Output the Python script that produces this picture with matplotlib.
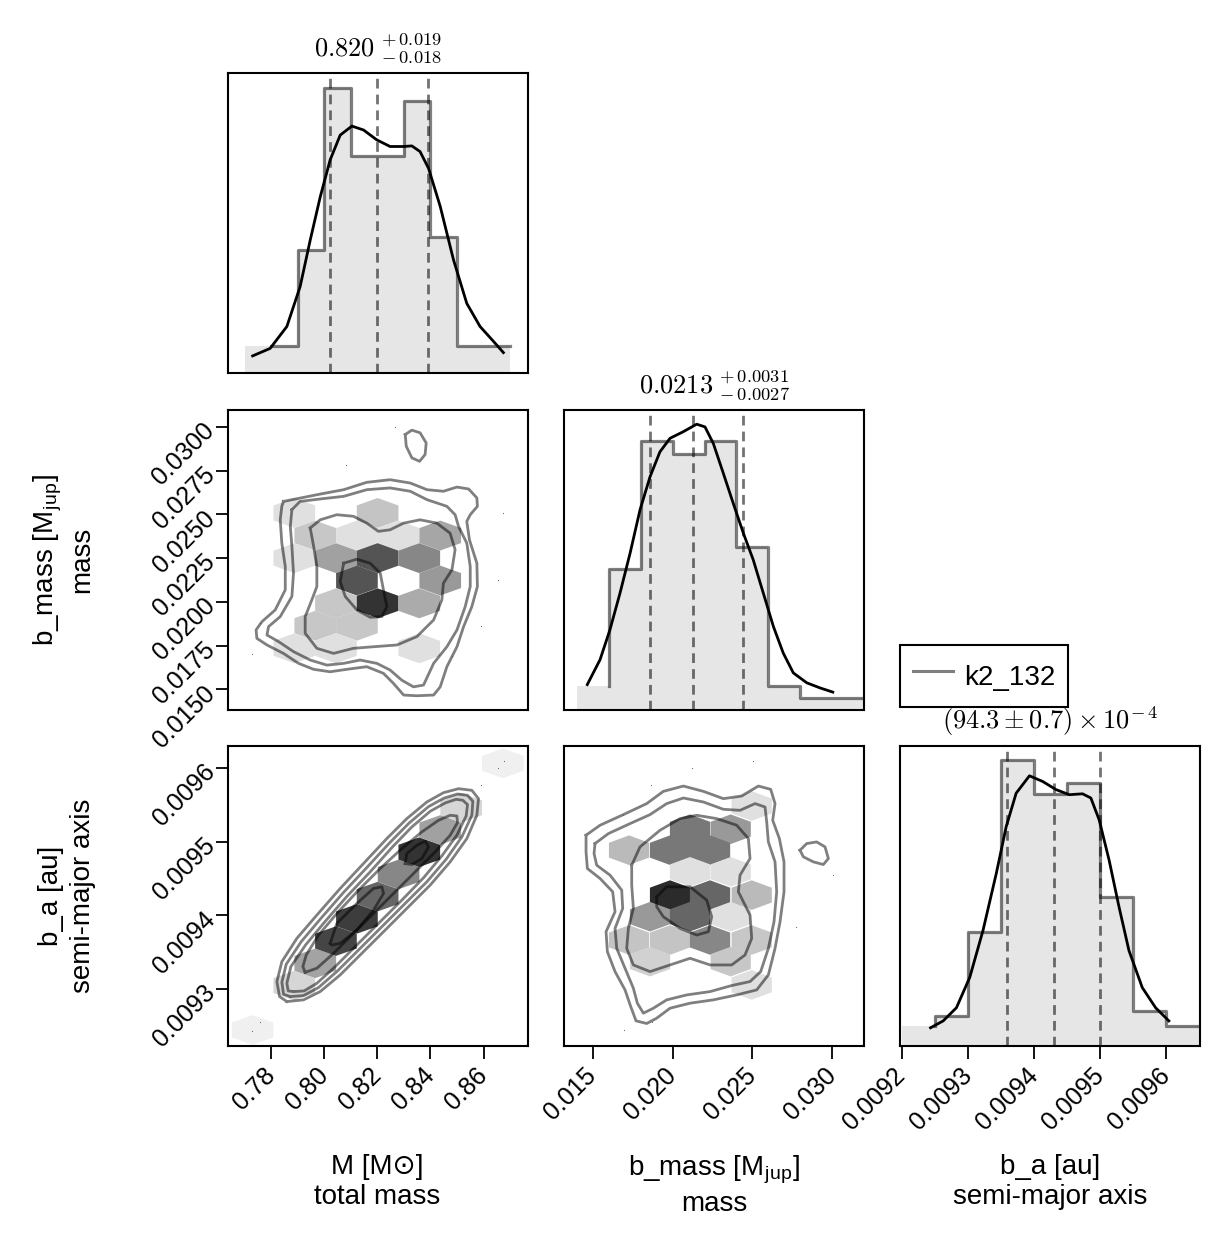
import numpy as np
import matplotlib
matplotlib.use("Agg")
import matplotlib.pyplot as plt
from matplotlib.collections import PolyCollection
from matplotlib.lines import Line2D

plt.rcParams['font.family'] = ['Liberation Sans', 'DejaVu Sans']
plt.rcParams['mathtext.fontset'] = 'cm'

# ---------------- 1D marginals (heights as fraction of panel height) ----------------
m_edges = [0.770, 0.780, 0.790, 0.800, 0.810, 0.820, 0.830, 0.840, 0.850, 0.860, 0.870]
m_heights = [0.091, 0.091, 0.411, 0.952, 0.724, 0.724, 0.908, 0.453, 0.091, 0.091]
m_kde_x = [0.7730, 0.7796, 0.7859, 0.7909, 0.7947, 0.7985, 0.8022, 0.8060, 0.8104, 0.8148, 0.8198,
           0.8248, 0.8299, 0.8330, 0.8361, 0.8393, 0.8437, 0.8487, 0.8537, 0.8587, 0.8638, 0.8675]
m_kde_y = [0.058, 0.083, 0.156, 0.289, 0.444, 0.589, 0.711, 0.794, 0.824, 0.811, 0.778,
           0.756, 0.756, 0.758, 0.739, 0.683, 0.556, 0.378, 0.233, 0.156, 0.106, 0.069]
m_quant = [0.802, 0.820, 0.839]

bm_edges = [0.014, 0.016, 0.018, 0.020, 0.022, 0.024, 0.026, 0.028, 0.030, 0.032]
bm_heights = [0.078, 0.468, 0.895, 0.851, 0.895, 0.543, 0.078, 0.039, 0.039]
bm_kde_x = [0.01466, 0.01546, 0.01608, 0.01671, 0.01734, 0.01796, 0.01859, 0.01921, 0.01984, 0.02067,
            0.02151, 0.02203, 0.02255, 0.02318, 0.02380, 0.02443, 0.02505, 0.02568, 0.02631, 0.02693,
            0.02756, 0.02840, 0.02923, 0.03003]
bm_kde_y = [0.083, 0.166, 0.266, 0.388, 0.521, 0.665, 0.776, 0.859, 0.904, 0.926,
            0.951, 0.942, 0.887, 0.787, 0.687, 0.588, 0.499, 0.388, 0.277, 0.188,
            0.122, 0.089, 0.072, 0.058]
bm_quant = [0.0186, 0.0213, 0.0244]

a_edges = [0.00920, 0.00925, 0.00930, 0.00935, 0.00940, 0.00945, 0.00950, 0.00955, 0.00960, 0.00965]
a_heights = [0.065, 0.098, 0.378, 0.953, 0.839, 0.875, 0.495, 0.115, 0.065]
a_kde_x = [0.0092436, 0.0092627, 0.0092828, 0.0093029, 0.0093229, 0.0093430, 0.0093581, 0.0093731,
           0.0093932, 0.0094133, 0.0094334, 0.0094535, 0.0094735, 0.0094861, 0.0094987, 0.0095137,
           0.0095288, 0.0095438, 0.0095639, 0.0095840, 0.0096041]
a_kde_y = [0.059, 0.082, 0.126, 0.227, 0.383, 0.573, 0.730, 0.841, 0.899, 0.880, 0.853, 0.836,
           0.839, 0.825, 0.752, 0.618, 0.461, 0.316, 0.193, 0.126, 0.082]
a_quant = [0.00936, 0.00943, 0.00950]

titles = [r"$0.820\;^{+\,0.019}_{-\,0.018}$", r"$0.0213\;^{+\,0.0031}_{-\,0.0027}$",
          r"$(94.3 \pm 0.7) \times 10^{-\,4}$"]

# ---------------- hexbin cells (centre x, centre y, shade 0..8) ----------------
hex_bm_M_x = [0.7887, 0.8201, 0.7966, 0.8123, 0.8280, 0.8437, 0.7887, 0.8044, 0.8201, 0.8358,
              0.8123, 0.8437, 0.8044, 0.8201, 0.8358, 0.7966, 0.8123, 0.7887, 0.8044, 0.8358]
hex_bm_M_y = [0.02508, 0.02508, 0.02379, 0.02379, 0.02379, 0.02379, 0.02250, 0.02250, 0.02250, 0.02250,
              0.02122, 0.02122, 0.01992, 0.01992, 0.01992, 0.01864, 0.01864, 0.01735, 0.01735, 0.01735]
hex_bm_M_s = [1.2, 2.3, 2.2, 1.2, 1.2, 3.5, 1.2, 3.7, 6.7, 4.7,
              6.7, 4.0, 2.2, 8.0, 3.3, 2.2, 2.2, 1.2, 1.2, 1.2]

hex_a_M_x = [0.7730, 0.7887, 0.7966, 0.8044, 0.8123, 0.8201, 0.8280, 0.8358, 0.8437, 0.8516, 0.8673]
hex_a_M_y = [0.0092448, 0.0093050, 0.0093351, 0.0093652, 0.0093953, 0.0094254, 0.0094555,
             0.0094856, 0.0095157, 0.0095458, 0.0096060]
hex_a_M_s = [0.6, 1.6, 3.6, 7.3, 7.6, 6.0, 4.7, 8.0, 3.7, 1.6, 0.6]

hex_a_bm_x = [0.024954, 0.021094, 0.023640, 0.017275, 0.019842, 0.022346, 0.021094, 0.023640,
              0.019842, 0.022346, 0.024954, 0.018589, 0.021094, 0.023640,
              0.017275, 0.019842, 0.022346, 0.024954, 0.018589, 0.023640, 0.024954]
hex_a_bm_y = [0.0095482, 0.0095167, 0.0095167, 0.0094883, 0.0094883, 0.0094883, 0.0094590, 0.0094590,
              0.0094275, 0.0094275, 0.0094275, 0.0093982, 0.0093982, 0.0093982,
              0.0093667, 0.0093667, 0.0093667, 0.0093667, 0.0093374, 0.0093374, 0.0093059]
hex_a_bm_s = [1.2, 5.3, 4.0, 2.7, 5.3, 5.3, 1.2, 1.2,
              8.3, 6.0, 2.7, 4.0, 6.0, 1.2,
              2.3, 2.3, 4.7, 2.2, 1.8, 2.2, 1.2]

# ---------------- density contours (closed loops) ----------------
cont_bm_M = [
    [(0.7846, 0.02574), (0.7985, 0.02616), (0.8073, 0.02641), (0.8160, 0.02683), (0.8248, 0.02698),
     (0.8324, 0.02679), (0.8387, 0.02641), (0.8449, 0.02632), (0.8500, 0.02656), (0.8544, 0.02645),
     (0.8575, 0.02594), (0.8577, 0.02546), (0.8550, 0.02498), (0.8537, 0.02460), (0.8547, 0.02355),
     (0.8575, 0.02221), (0.8577, 0.02088), (0.8556, 0.01973), (0.8525, 0.01859), (0.8500, 0.01744),
     (0.8462, 0.01630), (0.8437, 0.01515), (0.8412, 0.01468), (0.8349, 0.01464), (0.8299, 0.01468),
     (0.8261, 0.01534), (0.8223, 0.01592), (0.8160, 0.01630), (0.8085, 0.01615), (0.8022, 0.01601),
     (0.7960, 0.01615), (0.7903, 0.01649), (0.7846, 0.01706), (0.7784, 0.01754), (0.7746, 0.01792),
     (0.7743, 0.01840), (0.7765, 0.01887), (0.7815, 0.01954), (0.7853, 0.02069), (0.7853, 0.02202),
     (0.7840, 0.02336), (0.7834, 0.02469), (0.7840, 0.02546)],
    [(0.7878, 0.02527), (0.7909, 0.02574), (0.7985, 0.02588), (0.8073, 0.02603), (0.8160, 0.02641),
     (0.8248, 0.02651), (0.8324, 0.02632), (0.8387, 0.02584), (0.8462, 0.02546), (0.8493, 0.02498),
     (0.8506, 0.02431), (0.8537, 0.02336), (0.8550, 0.02202), (0.8550, 0.02088), (0.8531, 0.01973),
     (0.8500, 0.01840), (0.8462, 0.01744), (0.8412, 0.01649), (0.8374, 0.01525), (0.8336, 0.01515),
     (0.8292, 0.01553), (0.8248, 0.01611), (0.8198, 0.01649), (0.8135, 0.01668), (0.8073, 0.01649),
     (0.8010, 0.01639), (0.7947, 0.01668), (0.7884, 0.01716), (0.7828, 0.01773), (0.7784, 0.01811),
     (0.7790, 0.01859), (0.7834, 0.01916), (0.7878, 0.02031), (0.7884, 0.02164), (0.7878, 0.02317),
     (0.7872, 0.02431)],
    [(0.7947, 0.02422), (0.7985, 0.02469), (0.8047, 0.02498), (0.8110, 0.02489), (0.8160, 0.02450),
     (0.8204, 0.02403), (0.8248, 0.02412), (0.8299, 0.02450), (0.8361, 0.02469), (0.8424, 0.02450),
     (0.8474, 0.02393), (0.8493, 0.02298), (0.8481, 0.02183), (0.8449, 0.02107), (0.8443, 0.02011),
     (0.8412, 0.01897), (0.8349, 0.01802), (0.8274, 0.01754), (0.8186, 0.01744), (0.8110, 0.01735),
     (0.8035, 0.01706), (0.7972, 0.01735), (0.7928, 0.01821), (0.7928, 0.01916), (0.7953, 0.02011),
     (0.7972, 0.02088), (0.7972, 0.02202), (0.7960, 0.02317)],
    [(0.8073, 0.02221), (0.8123, 0.02244), (0.8173, 0.02221), (0.8211, 0.02164), (0.8223, 0.02069),
     (0.8236, 0.01973), (0.8217, 0.01916), (0.8173, 0.01912), (0.8123, 0.01954), (0.8079, 0.02031),
     (0.8060, 0.02116)],
    [(0.8305, 0.02956), (0.8330, 0.02981), (0.8361, 0.02966), (0.8384, 0.02908), (0.8380, 0.02842),
     (0.8359, 0.02803), (0.8330, 0.02823), (0.8309, 0.02889)],
]

cont_a_M = [
    [(0.78590, 0.0092833), (0.79218, 0.0092856), (0.79846, 0.0092968), (0.80600, 0.0093194),
     (0.81353, 0.0093464), (0.82233, 0.0093779), (0.83112, 0.0094095), (0.83991, 0.0094410),
     (0.84745, 0.0094725), (0.85373, 0.0095041), (0.85749, 0.0095356), (0.85812, 0.0095581),
     (0.85561, 0.0095694), (0.85059, 0.0095716), (0.84493, 0.0095662), (0.83865, 0.0095536),
     (0.83112, 0.0095311), (0.82358, 0.0095041), (0.81479, 0.0094703), (0.80600, 0.0094365),
     (0.79721, 0.0094005), (0.78967, 0.0093689), (0.78402, 0.0093374), (0.78214, 0.0093104),
     (0.78314, 0.0092901)],
    [(0.78716, 0.0092901), (0.79218, 0.0092914), (0.79784, 0.0093023), (0.80499, 0.0093248),
     (0.81253, 0.0093518), (0.82132, 0.0093833), (0.83011, 0.0094149), (0.83865, 0.0094455),
     (0.84594, 0.0094761), (0.85184, 0.0095063), (0.85561, 0.0095356), (0.85599, 0.0095545),
     (0.85398, 0.0095626), (0.85021, 0.0095644), (0.84519, 0.0095590), (0.83928, 0.0095473),
     (0.83200, 0.0095252), (0.82459, 0.0094982), (0.81605, 0.0094649), (0.80725, 0.0094311),
     (0.79871, 0.0093959), (0.79130, 0.0093644), (0.78565, 0.0093338), (0.78402, 0.0093095),
     (0.78465, 0.0092932)],
    [(0.78842, 0.0092968), (0.79243, 0.0092977), (0.79721, 0.0093081), (0.80412, 0.0093306),
     (0.81165, 0.0093577), (0.82044, 0.0093892), (0.82923, 0.0094207), (0.83740, 0.0094509),
     (0.84431, 0.0094806), (0.84996, 0.0095086), (0.85347, 0.0095347), (0.85398, 0.0095500),
     (0.85222, 0.0095559), (0.84971, 0.0095572), (0.84556, 0.0095523), (0.83991, 0.0095410),
     (0.83288, 0.0095194), (0.82559, 0.0094923), (0.81730, 0.0094590), (0.80851, 0.0094257),
     (0.80022, 0.0093914), (0.79294, 0.0093599), (0.78741, 0.0093306), (0.78590, 0.0093081),
     (0.78641, 0.0092977)],
    [(0.79281, 0.0093230), (0.79721, 0.0093284), (0.80349, 0.0093486), (0.81102, 0.0093757),
     (0.81919, 0.0094050), (0.82735, 0.0094342), (0.83489, 0.0094613), (0.84179, 0.0094860),
     (0.84745, 0.0095086), (0.85021, 0.0095257), (0.84996, 0.0095347), (0.84745, 0.0095356),
     (0.84305, 0.0095288), (0.83677, 0.0095131), (0.82923, 0.0094905), (0.82107, 0.0094635),
     (0.81291, 0.0094342), (0.80474, 0.0094027), (0.79784, 0.0093734), (0.79319, 0.0093464),
     (0.79193, 0.0093306)],
    [(0.80223, 0.0093622), (0.80474, 0.0093892), (0.81228, 0.0094162), (0.81856, 0.0094365),
     (0.82170, 0.0094387), (0.82233, 0.0094297), (0.81856, 0.0094072), (0.81228, 0.0093802),
     (0.80600, 0.0093622), (0.80286, 0.0093599)],
    [(0.83049, 0.0094703), (0.83112, 0.0094838), (0.83489, 0.0094950), (0.83803, 0.0095005),
     (0.83928, 0.0094928), (0.83677, 0.0094770), (0.83300, 0.0094689)],
]

cont_a_bm = [
    [(0.014583, 0.0095086), (0.015459, 0.0095221), (0.016920, 0.0095365), (0.018381, 0.0095514),
     (0.019424, 0.0095680), (0.020676, 0.0095752), (0.021928, 0.0095680), (0.023180, 0.0095581),
     (0.024328, 0.0095617), (0.025372, 0.0095752), (0.026144, 0.0095707), (0.026415, 0.0095514),
     (0.026269, 0.0095288), (0.026686, 0.0095041), (0.026978, 0.0094725), (0.026978, 0.0094320),
     (0.026728, 0.0093914), (0.026415, 0.0093554), (0.025998, 0.0093194), (0.025267, 0.0092991),
     (0.024015, 0.0092923), (0.022554, 0.0092856), (0.021094, 0.0092811), (0.019842, 0.0092743),
     (0.019007, 0.0092608), (0.018381, 0.0092536), (0.017713, 0.0092572), (0.017379, 0.0092766),
     (0.017024, 0.0092991), (0.016398, 0.0093239), (0.015918, 0.0093509), (0.015835, 0.0093779),
     (0.016398, 0.0094050), (0.016252, 0.0094320), (0.015459, 0.0094500), (0.014666, 0.0094635),
     (0.014583, 0.0094860)],
    [(0.015146, 0.0094973), (0.015981, 0.0095108), (0.017337, 0.0095243), (0.018589, 0.0095365),
     (0.019633, 0.0095514), (0.020676, 0.0095590), (0.021928, 0.0095536), (0.023180, 0.0095437),
     (0.024224, 0.0095423), (0.025163, 0.0095514), (0.025789, 0.0095468), (0.025893, 0.0095266),
     (0.025998, 0.0094995), (0.026415, 0.0094725), (0.026519, 0.0094320), (0.026352, 0.0093914),
     (0.025998, 0.0093554), (0.025518, 0.0093239), (0.024850, 0.0093104), (0.023702, 0.0093050),
     (0.022346, 0.0092968), (0.020885, 0.0092923), (0.019633, 0.0092856), (0.018798, 0.0092743),
     (0.018172, 0.0092676), (0.017796, 0.0092811), (0.017546, 0.0093014), (0.017024, 0.0093284),
     (0.016503, 0.0093554), (0.016398, 0.0093824), (0.016878, 0.0094095), (0.016816, 0.0094342),
     (0.016085, 0.0094545), (0.015250, 0.0094680), (0.015083, 0.0094838)],
    [(0.017442, 0.0094680), (0.017963, 0.0094928), (0.019215, 0.0095153), (0.020467, 0.0095311),
     (0.021511, 0.0095356), (0.022763, 0.0095311), (0.024015, 0.0095221), (0.024746, 0.0095041),
     (0.024850, 0.0094770), (0.024224, 0.0094545), (0.024120, 0.0094320), (0.024850, 0.0094005),
     (0.024954, 0.0093689), (0.024537, 0.0093464), (0.023702, 0.0093329), (0.022346, 0.0093329),
     (0.021094, 0.0093419), (0.019842, 0.0093329), (0.018589, 0.0093239), (0.017546, 0.0093329),
     (0.017129, 0.0093554), (0.017233, 0.0093824), (0.017546, 0.0094095), (0.017442, 0.0094410)],
    [(0.019007, 0.0094252), (0.019633, 0.0094387), (0.021094, 0.0094387), (0.022137, 0.0094207),
     (0.022450, 0.0093982), (0.022241, 0.0093779), (0.021511, 0.0093734), (0.020467, 0.0093824),
     (0.019424, 0.0093982), (0.019007, 0.0094117)],
    [(0.027980, 0.0094883), (0.028398, 0.0094973), (0.029024, 0.0094995), (0.029545, 0.0094928),
     (0.029754, 0.0094770), (0.029441, 0.0094689), (0.028815, 0.0094725), (0.028189, 0.0094793)],
]

# stray samples outside the contours
dots_bm_M = [(0.8267, 0.03001), (0.8083, 0.02781), (0.8675, 0.02508), (0.8653, 0.02126),
             (0.8590, 0.01864), (0.8483, 0.01693), (0.7727, 0.01700), (0.7759, 0.01878)]
dots_a_M = [(0.86754, 0.0096090), (0.86528, 0.0096000), (0.85900, 0.0095770),
            (0.77560, 0.0092563), (0.77284, 0.0092441)]
dots_a_bm = [(0.025017, 0.0096090), (0.021198, 0.0096000), (0.018631, 0.0095770),
             (0.016920, 0.0095356), (0.030067, 0.0094545), (0.027730, 0.0093838),
             (0.018694, 0.0092563), (0.016962, 0.0092446)]

# ---------------- axes ranges / ticks ----------------
lim_M = (0.76353, 0.87658)
lim_bm_x = (0.013203, 0.031985)
lim_bm_y = (0.013855, 0.030990)
lim_a_x = (0.0091974, 0.0096512)
lim_a_y = (0.0092238, 0.0096301)

ticks_M = [0.78, 0.80, 0.82, 0.84, 0.86]
labels_M = ["0.78", "0.80", "0.82", "0.84", "0.86"]
ticks_bm_x = [0.015, 0.020, 0.025, 0.030]
labels_bm_x = ["0.015", "0.020", "0.025", "0.030"]
ticks_a_x = [0.0092, 0.0093, 0.0094, 0.0095, 0.0096]
labels_a_x = ["0.0092", "0.0093", "0.0094", "0.0095", "0.0096"]
ticks_bm_y = [0.0150, 0.0175, 0.0200, 0.0225, 0.0250, 0.0275, 0.0300]
labels_bm_y = ["0.0150", "0.0175", "0.0200", "0.0225", "0.0250", "0.0275", "0.0300"]
ticks_a_y = [0.0093, 0.0094, 0.0095, 0.0096]
labels_a_y = ["0.0093", "0.0094", "0.0095", "0.0096"]

label_M = "M [M\u2299]\ntotal mass"
label_bm = "b_mass [M$_\\mathregular{jup}$]\nmass"
label_a = "b_a [au]\nsemi-major axis"

FS = 20      # axis labels / legend
TIT = 19     # panel titles
TFS = 18     # tick labels
fill_col = '#e6e6e6'
line_col = (0, 0, 0, 0.5)

fig = plt.figure(figsize=(12.32, 12.46), dpi=100)
W, H = 1232.0, 1246.0
lefts = [227.5 / W, 564 / W, 900 / W]
bottoms = [1 - 373.3 / H, 1 - 709.5 / H, 1 - 1045.5 / H]
aw, ah = 300 / W, 300 / H


def make_ax(col, row):
    ax = fig.add_axes([lefts[col], bottoms[row], aw, ah])
    for s in ax.spines.values():
        s.set_linewidth(1.5)
    ax.tick_params(direction='out', length=9, width=1.3, labelsize=TFS, pad=3,
                   bottom=False, left=False, labelbottom=False, labelleft=False)
    return ax


def marginal(ax, edges, heights, kde_x, kde_y, quant, xlim, title):
    ax.stairs(heights, edges, fill=True, color=fill_col, lw=0)
    e = np.asarray(edges)
    h = np.asarray(heights)
    sx = np.repeat(e[1:], 2)[:-1]
    sy = np.concatenate([[h[0]], np.repeat(h[1:], 2)])
    ax.plot(sx, sy, color=line_col, lw=2.3)
    for q in quant:
        ax.axvline(q, color=(0, 0, 0, 0.55), lw=2.0, ls=(0, (3.5, 2.2)))
    ax.plot(kde_x, kde_y, color='black', lw=2.0, solid_joinstyle='round')
    ax.set_xlim(*xlim)
    ax.set_ylim(0, 1)
    ax.set_title(title, fontsize=TIT, pad=12)


def hexes(ax, xs, ys, shades, w, h):
    verts = []
    for cx, cy in zip(xs, ys):
        verts.append([(cx, cy + h / 2), (cx + w / 2, cy + h / 4), (cx + w / 2, cy - h / 4),
                      (cx, cy - h / 2), (cx - w / 2, cy - h / 4), (cx - w / 2, cy + h / 4)])
    cols = [str(1 - 0.1 * s) for s in shades]
    ax.add_collection(PolyCollection(verts, facecolors=cols, edgecolors='none', zorder=1))


def contours(ax, loops, dots):
    for loop in loops:
        pts = np.array(loop + [loop[0]])
        ax.plot(pts[:, 0], pts[:, 1], color=line_col, lw=2.0, zorder=2,
                solid_joinstyle='round')
    d = np.array(dots)
    ax.scatter(d[:, 0], d[:, 1], s=0.6, color='#555555', zorder=3, lw=0)


# diagonal
ax00 = make_ax(0, 0)
marginal(ax00, m_edges, m_heights, m_kde_x, m_kde_y, m_quant, lim_M, titles[0])
ax11 = make_ax(1, 1)
marginal(ax11, bm_edges, bm_heights, bm_kde_x, bm_kde_y, bm_quant, lim_bm_x, titles[1])
ax22 = make_ax(2, 2)
marginal(ax22, a_edges, a_heights, a_kde_x, a_kde_y, a_quant, lim_a_x, titles[2])

# off-diagonal
ax10 = make_ax(0, 1)
hexes(ax10, hex_bm_M_x, hex_bm_M_y, hex_bm_M_s, 0.0157, 0.00171)
contours(ax10, cont_bm_M, dots_bm_M)
ax10.set_xlim(*lim_M)
ax10.set_ylim(*lim_bm_y)

ax20 = make_ax(0, 2)
hexes(ax20, hex_a_M_x, hex_a_M_y, hex_a_M_s, 0.0157, 0.0000401)
contours(ax20, cont_a_M, dots_a_M)
ax20.set_xlim(*lim_M)
ax20.set_ylim(*lim_a_y)

ax21 = make_ax(1, 2)
hexes(ax21, hex_a_bm_x, hex_a_bm_y, hex_a_bm_s, 0.00252, 0.0000401)
contours(ax21, cont_a_bm, dots_a_bm)
ax21.set_xlim(*lim_bm_x)
ax21.set_ylim(*lim_a_y)

# ticks
for ax, t, l in [(ax20, ticks_M, labels_M), (ax21, ticks_bm_x, labels_bm_x), (ax22, ticks_a_x, labels_a_x)]:
    ax.set_xticks(t, l)
    ax.tick_params(axis='x', bottom=True, labelbottom=True, pad=10)
    for lab in ax.get_xticklabels():
        lab.set_rotation(45)
        lab.set_ha('right')
        lab.set_va('center')
        lab.set_rotation_mode('anchor')

for ax, t, l in [(ax10, ticks_bm_y, labels_bm_y), (ax20, ticks_a_y, labels_a_y)]:
    ax.set_yticks(t, l)
    ax.tick_params(axis='y', left=True, labelleft=True, pad=3)
    for lab in ax.get_yticklabels():
        lab.set_rotation(45)
        lab.set_ha('right')
        lab.set_va('center')
        lab.set_rotation_mode('anchor')

# axis labels
for ax, lab in [(ax20, label_M), (ax21, label_bm), (ax22, label_a)]:
    ax.set_xlabel(lab, fontsize=FS, linespacing=1.25)
    ax.xaxis.set_label_coords(0.5, -0.36)
for ax, lab in [(ax10, label_bm), (ax20, label_a)]:
    ax.set_ylabel(lab, fontsize=FS, linespacing=1.25)
    ax.yaxis.set_label_coords(-0.44, 0.5)

handle = Line2D([], [], color=line_col, lw=2.2)
leg = fig.legend([handle], ["k2_132"], loc='upper left', bbox_to_anchor=(900 / W, 1 - 645 / H),
                 fontsize=FS, frameon=True, fancybox=False, edgecolor='black', framealpha=1,
                 borderaxespad=0, handlelength=1.45, handletextpad=0.4, borderpad=0.45,
                 handleheight=1.65)
leg.get_frame().set_linewidth(1.5)

fig.savefig("out.png", dpi=100, facecolor='white')
